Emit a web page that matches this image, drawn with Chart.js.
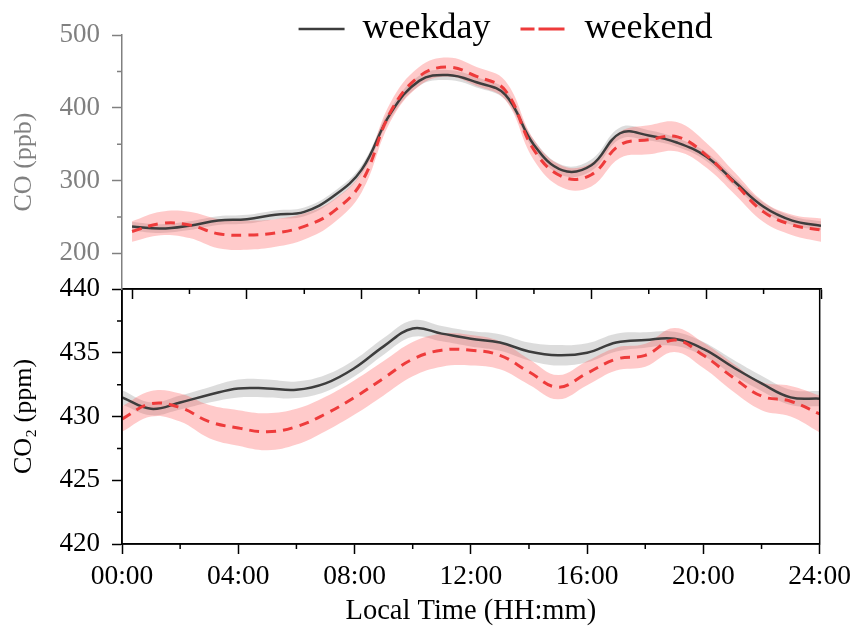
<!DOCTYPE html>
<html>
<head>
<meta charset="utf-8">
<script src="https://cdn.jsdelivr.net/npm/chart.js@4"></script>
<style>
  body { margin: 0; background: #fff; overflow: hidden; }
  #wrap { position: relative; width: 857px; height: 639px; }
  canvas { position: absolute; left: 0; }
  #co2Chart { top: 260px; }
  #coChart { top: 0; }
</style>
</head>
<body>
<div id="wrap">
  <canvas id="co2Chart" width="857" height="379"></canvas>
  <canvas id="coChart" width="857" height="318"></canvas>
</div>
<script>
// hours of the day, one point per hour
const hours = [0,1,2,3,4,5,6,7,8,9,10,11,12,13,14,15,16,17,18,19,20,21,22,23,24];
const seriesNames = ['weekday', 'weekend'];

const xTicks = [0, 4, 8, 12, 16, 20, 24];
const xTickLabels = ['00:00', '04:00', '08:00', '12:00', '16:00', '20:00', '24:00'];
const xMinor = [2, 6, 10, 14, 18, 22];
const coTicks = [200, 300, 400, 500];
const coMinor = [250, 350, 450];
const co2Ticks = [420, 425, 430, 435, 440];
const co2Minor = [422.5, 427.5, 432.5, 437.5];

// CO (ppb)
const coWeekday = [237,234,238,245,247,253,257,278,315,392,437,445,435,418,349,314,321,365,362,352,333,298,264,245,238];
const coWeekdayErr = [6,6,6,6,6,6,6,6,6,7,7,7,7,7,7,7,8,8,7,6,6,6,6,6,6];
const coWeekend = [230,241,239,227,225,228,237,257,298,394,443,456,443,424,342,305,308,349,356,360,335,296,257,239,232];
const coWeekendErr = [14,16,18,20,20,19,18,16,14,13,13,13,13,13,14,15,16,18,20,20,17,15,14,14,16];

// CO2 (ppm)
const co2Weekday = [431.5,430.6,431.1,431.7,432.2,432.2,432.1,432.6,433.8,435.5,436.9,436.5,436.1,435.8,435.1,434.8,435.0,435.8,436.0,436.1,435.3,433.9,432.6,431.5,431.4];
const co2WeekdayErr = [0.55,0.5,0.55,0.6,0.7,0.7,0.65,0.65,0.65,0.65,0.65,0.6,0.6,0.65,0.7,0.8,0.75,0.7,0.6,0.55,0.55,0.6,0.6,0.6,0.6];
const co2Weekend = [429.8,431.0,430.7,429.6,429.1,428.8,429.2,430.2,431.5,433.0,434.5,435.2,435.2,434.8,433.5,432.3,433.4,434.5,434.8,436.0,434.8,433.1,431.6,431.2,430.2];
const co2WeekendErr = [1.0,1.0,1.1,1.3,1.4,1.45,1.4,1.35,1.35,1.35,1.35,1.3,1.2,1.1,1.0,0.95,0.95,0.9,0.9,0.95,1.0,1.1,1.1,1.2,1.45];

const serif = 'Liberation Serif';
const weekdayColor = '#3d3d3d';
const weekendColor = '#ee3b3b';
const weekdayBand = 'rgba(140, 140, 140, 0.3)';
const weekendBand = 'rgba(255, 90, 90, 0.32)';

function points(vals, errs, sign) {
    return hours.map((h, i) => ({ x: h, y: vals[i] + sign * errs[i] }));
}

function buildDatasets(wd, wdErr, we, weErr) {
    const band = { borderWidth: 0, pointRadius: 0, tension: 0.4 };
    return [
        { label: seriesNames[0], data: points(wd, wdErr, 0), borderColor: weekdayColor, backgroundColor: weekdayColor,
          borderWidth: 2.5, pointRadius: 0, tension: 0.4, fill: false, order: 1 },
        { label: seriesNames[1], data: points(we, weErr, 0), borderColor: weekendColor, backgroundColor: weekendColor,
          borderWidth: 3, borderDash: [10, 7], pointRadius: 0, tension: 0.4, fill: false, order: 0 },
        { ...band, label: 'wd upper', data: points(wd, wdErr, 1), fill: '+1', backgroundColor: weekdayBand, order: 3 },
        { ...band, label: 'wd lower', data: points(wd, wdErr, -1), fill: false, order: 3 },
        { ...band, label: 'we upper', data: points(we, weErr, 1), fill: '+1', backgroundColor: weekendBand, order: 2 },
        { ...band, label: 'we lower', data: points(we, weErr, -1), fill: false, order: 2 }
    ];
}

// short minor ticks, placed with the scale
function minorTicks(list) {
    return {
        id: 'minorTicks',
        afterDraw(chart) {
            const ctx = chart.ctx;
            list.forEach(m => {
                const s = chart.scales[m.axis];
                ctx.save();
                ctx.strokeStyle = m.color;
                ctx.lineWidth = 1.5;
                ctx.beginPath();
                m.values.forEach(v => {
                    const p = s.getPixelForValue(v);
                    if (m.axis === 'x') { ctx.moveTo(p, s.top); ctx.lineTo(p, s.top + 5); }
                    else { ctx.moveTo(s.right, p); ctx.lineTo(s.right - 5, p); }
                });
                ctx.stroke();
                ctx.restore();
            });
        }
    };
}

const boxFrame = {
    id: 'boxFrame',
    afterDraw(chart) {
        const { left, top, right, bottom } = chart.chartArea;
        const ctx = chart.ctx;
        ctx.save();
        ctx.strokeStyle = '#000';
        ctx.lineWidth = 1.5;
        ctx.strokeRect(left, top, right - left, bottom - top);
        ctx.restore();
    }
};

// move the legend right and let its text hang below the box
const legendShift = {
    id: 'legendShift',
    afterLayout(chart) {
        const lg = chart.legend;
        lg.left += 95;
        lg.right += 95;
        lg.top += 2;
        lg.bottom += 20;
    }
};

// CO panel (top)
new Chart(document.getElementById('coChart'), {
    type: 'line',
    data: { datasets: buildDatasets(coWeekday, coWeekdayErr, coWeekend, coWeekendErr) },
    options: {
        responsive: false,
        animation: false,
        layout: { padding: { top: -21, right: 36, left: 0, bottom: 0 } },
        plugins: {
            legend: {
                position: 'top',
                maxHeight: 56,
                labels: {
                    boxWidth: 46,
                    boxHeight: 0,
                    padding: 30,
                    color: '#000',
                    font: { family: serif, size: 36 },
                    filter: item => item.datasetIndex < 2,
                    sort: (a, b) => a.datasetIndex - b.datasetIndex,
                    generateLabels: chart => Chart.defaults.plugins.legend.labels.generateLabels(chart)
                        .map(item => item.datasetIndex === 1 ? { ...item, lineDash: [14, 16] } : item)
                }
            },
            tooltip: { enabled: false }
        },
        scales: {
            x: {
                type: 'linear',
                min: -0.35,
                max: 24,
                afterBuildTicks: s => { s.ticks = xTicks.map(v => ({ value: v })); },
                afterFit: s => { s.height = 29; },
                ticks: { display: false },
                grid: { drawOnChartArea: false, tickLength: 10, tickColor: '#000', tickWidth: 1.5 },
                border: { color: '#000', width: 1.5 }
            },
            y: {
                min: 151,
                max: 500,
                afterBuildTicks: s => { s.ticks = coTicks.map(v => ({ value: v })); },
                afterFit: s => { s.width = 122; },
                ticks: { color: '#808080', font: { family: serif, size: 27 }, padding: 12 },
                grid: { drawOnChartArea: false, tickLength: 10, tickColor: '#808080', tickWidth: 1.5 },
                border: { color: '#808080', width: 1.5 },
                title: { display: true, text: 'CO (ppb)', color: '#808080', font: { family: serif, size: 26 }, padding: { top: 9, bottom: 9 } }
            }
        }
    },
    plugins: [minorTicks([
        { axis: 'x', values: xMinor, color: '#000' },
        { axis: 'y', values: coMinor, color: '#808080' }
    ]), legendShift]
});

// CO2 panel (bottom)
new Chart(document.getElementById('co2Chart'), {
    type: 'line',
    data: { datasets: buildDatasets(co2Weekday, co2WeekdayErr, co2Weekend, co2WeekendErr) },
    options: {
        responsive: false,
        animation: false,
        layout: { padding: { top: 29, right: 36, left: 0, bottom: 0 } },
        plugins: {
            legend: { display: false },
            tooltip: { enabled: false }
        },
        scales: {
            x: {
                type: 'linear',
                min: 0,
                max: 24,
                afterBuildTicks: s => { s.ticks = xTicks.map(v => ({ value: v })); },
                afterFit: s => { s.height = 95; },
                ticks: {
                    color: '#000', font: { family: serif, size: 27.5 }, padding: 6, maxRotation: 0,
                    callback: v => xTickLabels[xTicks.indexOf(v)]
                },
                grid: { drawOnChartArea: false, tickLength: 10, tickColor: '#000', tickWidth: 1.5 },
                border: { color: '#000', width: 1.5 },
                title: { display: true, text: 'Local Time (HH:mm)', color: '#000', font: { family: serif, size: 28.5 }, padding: { top: 4, bottom: 10 } }
            },
            y: {
                min: 420,
                max: 440,
                afterBuildTicks: s => { s.ticks = co2Ticks.map(v => ({ value: v })); },
                afterFit: s => { s.width = 122; },
                ticks: { color: '#000', font: { family: serif, size: 27 }, padding: 12 },
                grid: { drawOnChartArea: false, tickLength: 10, tickColor: '#000', tickWidth: 1.5 },
                border: { color: '#000', width: 1.5 },
                title: { display: true, text: 'CO₂ (ppm)', color: '#000', font: { family: serif, size: 26 }, padding: { top: 9, bottom: 9 } }
            }
        }
    },
    plugins: [minorTicks([
        { axis: 'x', values: xMinor, color: '#000' },
        { axis: 'y', values: co2Minor, color: '#000' }
    ]), boxFrame]
});
</script>
</body>
</html>
